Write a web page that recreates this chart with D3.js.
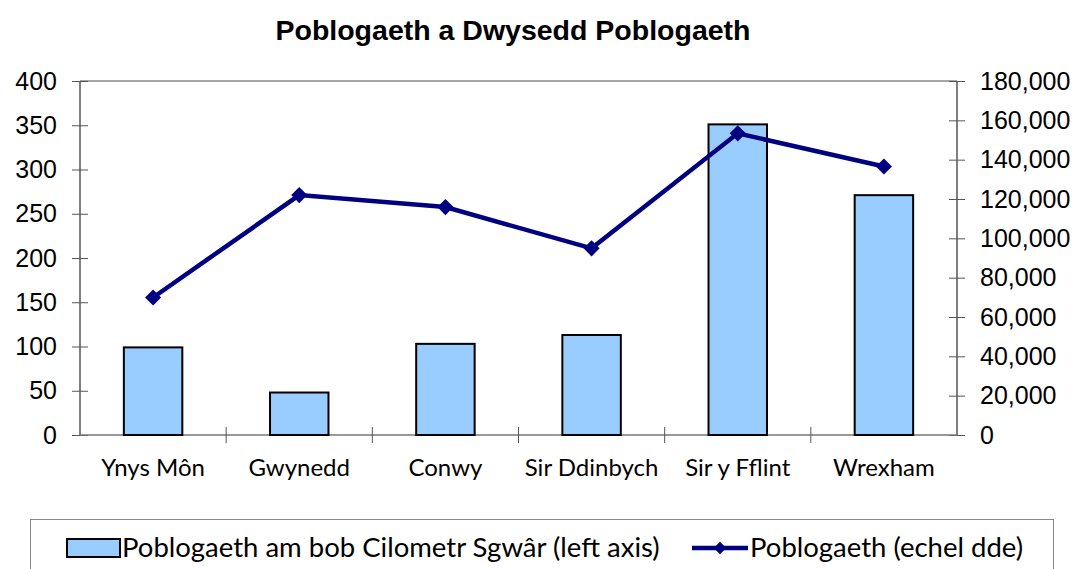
<!DOCTYPE html>
<html>
<head>
<meta charset="utf-8">
<script src="https://cdn.jsdelivr.net/npm/d3@7"></script>
<style>
  body { margin: 0; background: #fff; }
  svg { display: block; }
</style>
</head>
<body>
<svg id="chart"></svg>
<script>
"use strict"

const categories = ["Ynys Môn", "Gwynedd", "Conwy", "Sir Ddinbych", "Sir y Fflint", "Wrexham"]
const density = [99, 48, 103, 113, 351, 271]
const population = [69900, 122000, 115900, 94900, 153400, 136500]
const leftTicks = [0, 50, 100, 150, 200, 250, 300, 350, 400]
const rightTicks = [0, 20000, 40000, 60000, 80000, 100000, 120000, 140000, 160000, 180000]
const legendLabels = ["Poblogaeth am bob Cilometr Sgwâr (left axis)", "Poblogaeth (echel dde)"]

const width = 1079, height = 569
const margin = { top: 81, right: 122, bottom: 134, left: 80 }

const svg = d3.select("#chart")
    .attr("width", width)
    .attr("height", height)

const xBand = d3.scaleBand()
    .domain(categories)
    .range([margin.left, width - margin.right])

const yLeft = d3.scaleLinear()
    .domain([0, 400])
    .range([height - margin.bottom, margin.top])

const yRight = d3.scaleLinear()
    .domain([0, 180000])
    .range([height - margin.bottom, margin.top])

const x0 = margin.left, x1 = width - margin.right
const yb = height - margin.bottom

// title
svg.append("text")
    .attr("x", 513)
    .attr("y", 40)
    .attr("text-anchor", "middle")
    .style("font-family", "Liberation Sans, Arial, sans-serif")
    .style("font-weight", "bold")
    .style("font-size", "28.5px")
    .text("Poblogaeth a Dwysedd Poblogaeth")

// plot area border top
svg.append("line")
    .attr("x1", x0).attr("x2", x1)
    .attr("y1", margin.top).attr("y2", margin.top)
    .attr("stroke", "#888").attr("stroke-width", 1.5)

// left axis
const axL = svg.append("g")
    .attr("transform", "translate(" + x0 + ",0)")
    .call(d3.axisLeft(yLeft).tickValues(leftTicks).tickSize(8).tickPadding(15))
axL.selectAll(".tick line").attr("x2", -8).attr("x1", 8).attr("stroke", "#555")
axL.select(".domain").attr("stroke", "#555").attr("stroke-width", 1.5).attr("d", "M0," + margin.top + "V" + yb)

// right axis
const axR = svg.append("g")
    .attr("transform", "translate(" + x1 + ",0)")
    .call(d3.axisRight(yRight).tickValues(rightTicks).tickSize(8).tickPadding(15)
        .tickFormat(d3.format(",")))
axR.selectAll(".tick line").attr("x1", -8).attr("x2", 8).attr("stroke", "#555")
axR.select(".domain").attr("stroke", "#555").attr("stroke-width", 1.5).attr("d", "M0," + margin.top + "V" + yb)

svg.selectAll(".tick text")
    .style("font-family", "Liberation Sans, Arial, sans-serif")
    .style("font-size", "25px")
    .attr("fill", "#000")

// bottom axis
svg.append("line")
    .attr("x1", x0).attr("x2", x1)
    .attr("y1", yb).attr("y2", yb)
    .attr("stroke", "#777").attr("stroke-width", 1.5)

svg.selectAll(".cat-tick")
    .data(categories.slice(1))
    .enter().append("line")
    .attr("class", "cat-tick")
    .attr("x1", d => xBand(d)).attr("x2", d => xBand(d))
    .attr("y1", yb - 8).attr("y2", yb + 8)
    .attr("stroke", "#555")

svg.selectAll(".cat-label")
    .data(categories)
    .enter().append("text")
    .attr("class", "cat-label")
    .attr("x", d => xBand(d) + xBand.bandwidth() / 2)
    .attr("y", 476)
    .attr("text-anchor", "middle")
    .style("font-family", "Lato, sans-serif")
    .style("font-size", "24px")
    .text(d => d)

// bars
svg.selectAll(".bar")
    .data(categories)
    .enter().append("rect")
    .attr("class", "bar")
    .attr("x", d => xBand(d) + xBand.bandwidth() * 0.3)
    .attr("width", xBand.bandwidth() * 0.4)
    .attr("y", (d, i) => yLeft(density[i]))
    .attr("height", (d, i) => yb - yLeft(density[i]))
    .attr("fill", "#99CCFF")
    .attr("stroke", "#000")
    .attr("stroke-width", 2)

// line
const line = d3.line()
    .x((d, i) => xBand(categories[i]) + xBand.bandwidth() / 2)
    .y(d => yRight(d))

svg.append("path")
    .datum(population)
    .attr("d", line)
    .attr("fill", "none")
    .attr("stroke", "#000080")
    .attr("stroke-width", 4.5)

const diamond = d3.symbol().type(d3.symbolSquare).size(130)
svg.selectAll(".marker")
    .data(population)
    .enter().append("path")
    .attr("class", "marker")
    .attr("d", diamond)
    .attr("transform", (d, i) => "translate(" + (xBand(categories[i]) + xBand.bandwidth() / 2) + "," + yRight(d) + ") rotate(45)")
    .attr("fill", "#000080")

// legend
svg.append("rect")
    .attr("x", 30.5).attr("y", 519.5)
    .attr("width", 1023).attr("height", 60)
    .attr("fill", "none")
    .attr("stroke", "#888")
    .attr("stroke-width", 1)

svg.append("rect")
    .attr("x", 67).attr("y", 539)
    .attr("width", 53).attr("height", 18)
    .attr("fill", "#99CCFF")
    .attr("stroke", "#000")
    .attr("stroke-width", 2)

svg.append("text")
    .attr("x", 122).attr("y", 557)
    .style("font-family", "Lato, sans-serif")
    .style("font-size", "27.5px")
    .text(legendLabels[0])

svg.append("line")
    .attr("x1", 692).attr("x2", 748)
    .attr("y1", 548).attr("y2", 548)
    .attr("stroke", "#000080").attr("stroke-width", 4.5)

svg.append("path")
    .attr("d", d3.symbol().type(d3.symbolSquare).size(80))
    .attr("transform", "translate(720,548) rotate(45)")
    .attr("fill", "#000080")

svg.append("text")
    .attr("x", 750).attr("y", 557)
    .style("font-family", "Lato, sans-serif")
    .style("font-size", "27.5px")
    .text(legendLabels[1])
</script>
</body>
</html>
